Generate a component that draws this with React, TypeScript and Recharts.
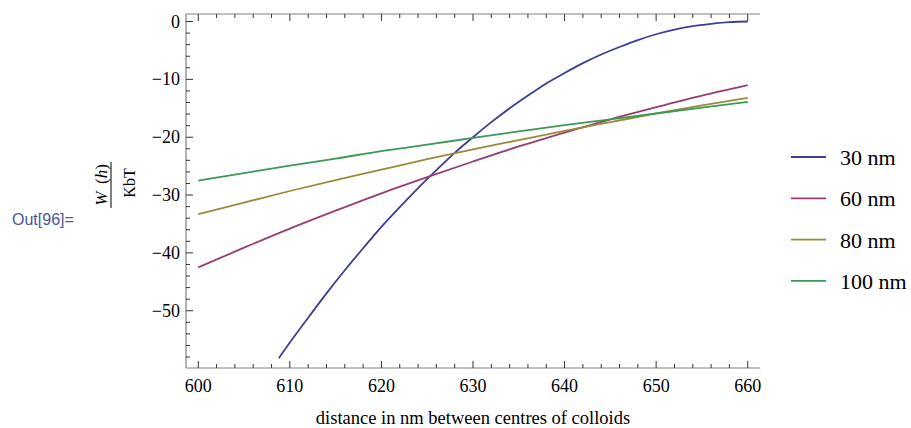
import * as React from 'react'
import { LineChart, Line, XAxis, YAxis } from 'recharts'

// distance between colloid centres (nm) and W(h)/KbT for each particle size
const h30 = [608.8, 610, 612, 614, 616, 618, 620, 622, 624, 626, 628, 630, 632, 634, 636, 638, 640, 642, 644, 646, 648, 650, 652, 654, 656, 658, 660]
const w30 = [-58.2, -55.5, -51.2, -47.0, -43.0, -39.2, -35.5, -32.1, -28.8, -25.7, -22.7, -20.0, -17.4, -15.0, -12.8, -10.7, -8.9, -7.2, -5.7, -4.4, -3.2, -2.2, -1.4, -0.8, -0.4, -0.1, 0]

const hWide = [600, 605, 610, 615, 620, 625, 630, 635, 640, 645, 650, 655, 660]
const w60 = [-42.5, -39.1, -35.8, -32.7, -29.7, -26.9, -24.2, -21.6, -19.2, -16.9, -14.8, -12.8, -11.0]
const w80 = [-33.3, -31.3, -29.3, -27.4, -25.6, -23.8, -22.1, -20.5, -18.9, -17.4, -15.9, -14.5, -13.2]
const w100 = [-27.5, -26.2, -24.9, -23.7, -22.4, -21.3, -20.1, -19.0, -17.9, -16.9, -15.9, -14.9, -13.9]

const sizes = ['30 nm', '60 nm', '80 nm', '100 nm']
const colors = ['#3d3d99', '#993d71', '#998b3d', '#3d9956']

const xTicks = [600, 602, 604, 606, 608, 610, 612, 614, 616, 618, 620, 622, 624, 626, 628, 630, 632, 634, 636, 638, 640, 642, 644, 646, 648, 650, 652, 654, 656, 658, 660]
const yTicks = [-58, -56, -54, -52, -50, -48, -46, -44, -42, -40, -38, -36, -34, -32, -30, -28, -26, -24, -22, -20, -18, -16, -14, -12, -10, -8, -6, -4, -2, 0]

const toRows = (hs: number[], ws: number[]) => hs.map((h, i) => ({ h, w: ws[i] }))
const series = [toRows(h30, w30), toRows(hWide, w60), toRows(hWide, w80), toRows(hWide, w100)]

const serif = '"Liberation Serif", "Times New Roman", serif'
const tickColor = '#333'
const frameColor = '#808080'

const fmt = (v: number) => (v < 0 ? '\u2212' + Math.abs(v) : String(v))

const BottomTick = (props: any) => {
    const { x, y, payload } = props
    const major = payload.value % 10 === 0
    return (
        <g>
            <line x1={x} x2={x} y1={y} y2={y - (major ? 7 : 4)} stroke={tickColor} />
            {major && (
                <text x={x} y={y + 24} textAnchor="middle" fontFamily={serif} fontSize={18} fill="#000">
                    {fmt(payload.value)}
                </text>
            )}
        </g>
    )
}

const TopTick = (props: any) => {
    const { x, y, payload } = props
    const major = payload.value % 10 === 0
    return <line x1={x} x2={x} y1={y} y2={y + (major ? 7 : 4)} stroke={tickColor} />
}

const LeftTick = (props: any) => {
    const { x, y, payload } = props
    const major = payload.value % 10 === 0
    return (
        <g>
            <line x1={x} x2={x + (major ? 7 : 4)} y1={y} y2={y} stroke={tickColor} />
            {major && (
                <text x={x - 6} y={y + 6} textAnchor="end" fontFamily={serif} fontSize={18} fill="#000">
                    {fmt(payload.value)}
                </text>
            )}
        </g>
    )
}

export default function App() {
    return (
        <div style={{ position: 'absolute', left: 0, top: 0, width: 911, height: 428, background: '#fff' }}>
            <LineChart width={911} height={428} margin={{ top: 0, right: 151, bottom: 0, left: 0 }}>
                <XAxis
                    dataKey="h"
                    type="number"
                    domain={[598.66, 661.34]}
                    allowDataOverflow
                    ticks={xTicks}
                    interval={0}
                    height={60}
                    tickSize={0}
                    tickMargin={0}
                    tickLine={false}
                    tick={BottomTick}
                    axisLine={{ stroke: frameColor, strokeWidth: 1.2 }}
                    label={{
                        value: 'distance in nm between centres of colloids',
                        position: 'insideBottom',
                        offset: 4,
                        style: { fontFamily: serif, fontSize: 18.5, fill: '#000' },
                    }}
                />
                <XAxis
                    xAxisId="top"
                    orientation="top"
                    dataKey="h"
                    type="number"
                    domain={[598.66, 661.34]}
                    allowDataOverflow
                    ticks={xTicks}
                    interval={0}
                    height={14}
                    tickSize={0}
                    tickMargin={0}
                    tickLine={false}
                    tick={TopTick}
                    axisLine={{ stroke: frameColor, strokeWidth: 1.2 }}
                />
                <YAxis
                    type="number"
                    domain={[-59.9, 1.3]}
                    allowDataOverflow
                    ticks={yTicks}
                    interval={0}
                    width={186}
                    tickSize={0}
                    tickMargin={0}
                    tickLine={false}
                    tick={LeftTick}
                    axisLine={{ stroke: frameColor, strokeWidth: 1.2 }}
                />
                {series.map((rows, i) => (
                    <Line
                        key={sizes[i]}
                        data={rows}
                        dataKey="w"
                        name={sizes[i]}
                        type="monotone"
                        stroke={colors[i]}
                        strokeWidth={1.8}
                        dot={false}
                        isAnimationActive={false}
                    />
                ))}
            </LineChart>

            <svg width={911} height={428} style={{ position: 'absolute', left: 0, top: 0, pointerEvents: 'none' }}>
                <text x={12} y={225} fontFamily='"Liberation Sans", Arial, sans-serif' fontSize={16} fill="#4a55a0">
                    Out[96]=
                </text>

                {/* y label drawn as a fraction W(h) / KbT */}
                <text
                    x={107}
                    y={185}
                    transform="rotate(-90 107 185)"
                    textAnchor="middle"
                    fontFamily={serif}
                    fontSize={17}
                    fill="#000"
                >
                    <tspan fontStyle="italic">W</tspan>
                    <tspan>{'\u2009 ('}</tspan>
                    <tspan fontStyle="italic">h</tspan>
                    <tspan>)</tspan>
                </text>
                <line x1={111} x2={111} y1={162} y2={208} stroke="#000" strokeWidth={1} />
                <text
                    x={135}
                    y={183}
                    transform="rotate(-90 135 183)"
                    textAnchor="middle"
                    fontFamily={serif}
                    fontSize={16}
                    fill="#000"
                >
                    KbT
                </text>

                {sizes.map((s, i) => (
                    <g key={s}>
                        <line x1={791} x2={826} y1={157 + i * 41.3} y2={157 + i * 41.3} stroke={colors[i]} strokeWidth={1.8} />
                        <text x={840} y={165 + i * 41.3} fontFamily={serif} fontSize={22} fill="#000">
                            {s}
                        </text>
                    </g>
                ))}
            </svg>
        </div>
    )
}
